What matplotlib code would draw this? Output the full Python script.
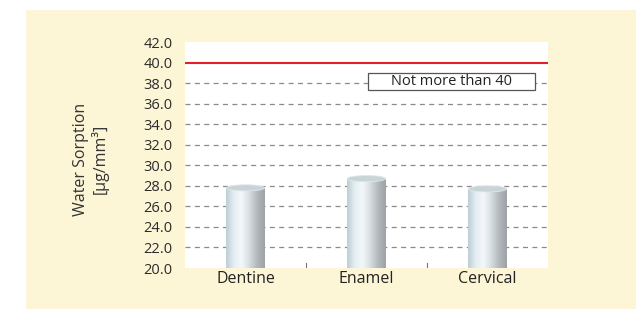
import numpy as np
import matplotlib
matplotlib.use("Agg")
import matplotlib.pyplot as plt
from matplotlib.patches import Rectangle, Ellipse
from matplotlib.colors import LinearSegmentedColormap

categories = ["Dentine", "Enamel", "Cervical"]
values = [27.8, 28.7, 27.7]
limit = 40.0
limit_label = "Not more than 40"
yticks = np.arange(20, 42.1, 2)

plt.rcParams['font.family'] = ['Open Sans', 'DejaVu Sans']

W, H = 636, 309
fig = plt.figure(figsize=(W / 100, H / 100), dpi=100)
fig.patch.set_facecolor("white")
# cream panel
fig.add_artist(Rectangle((26 / W, 0), 1 - 26 / W, 1 - 10 / H, transform=fig.transFigure,
                         facecolor="#fdf6d6", edgecolor="none", zorder=0))

ax = fig.add_axes([185 / W, (H - 268) / H, (548 - 185) / W, (268 - 42) / H])
ax.set_facecolor("white")
ax.set_xlim(-0.5, 2.5)
ax.set_ylim(20, 42)

for s in ax.spines.values():
    s.set_visible(False)

# dashed grid
for y in yticks[1:-2]:
    ax.axhline(y, color="#8a8a8a", lw=0.9, ls=(0, (4, 3.5)), zorder=1)
ax.axhline(limit, color="#e3202a", lw=1.5, zorder=3)

# cylinders
bw = 0.315
cmap = LinearSegmentedColormap.from_list(
    "cyl", ["#bccdd5", "#e4eef2", "#f4f8fa", "#d6dde1", "#b3b8bc", "#9ea2a6"])
grad = np.linspace(0, 1, 256).reshape(1, -1)
cap_h = 0.6
for i, v in enumerate(values):
    x0 = i - bw / 2
    rect = Rectangle((x0, 20), bw, v - 20, facecolor="none", edgecolor="none")
    ax.add_patch(rect)
    im = ax.imshow(grad, cmap=cmap, aspect="auto", extent=(x0, x0 + bw, 20, v),
                   zorder=4, interpolation="bicubic")
    im.set_clip_path(rect)
    ax.add_patch(Ellipse((i, v), bw, cap_h, facecolor="#c9d4d9",
                         edgecolor="#dfe7ea", lw=0.6, zorder=5))

ax.set_xlim(-0.5, 2.5)
ax.set_ylim(20, 42)

# label box
ax.add_patch(Rectangle((1.01, 37.33), 1.38, 1.66, facecolor="white",
                       edgecolor="#555555", lw=0.9, zorder=6))
ax.text(1.70, 38.16, limit_label, ha="center", va="center", fontsize=10.5,
        color="#222222", zorder=7)

# category separators
for xb in [0.5, 1.5]:
    ax.plot([xb, xb], [20, 20.45], color="#777777", lw=0.8, zorder=2)

ax.set_yticks(yticks)
ax.set_yticklabels([f"{t:.1f}" for t in yticks], fontsize=10.5, color="#2b2b2b")
ax.set_xticks(range(len(categories)))
ax.set_xticklabels(categories, fontsize=11.5, color="#222222")
ax.tick_params(axis="both", length=0)
ax.tick_params(axis="y", pad=9)
ax.tick_params(axis="x", pad=2)

fig.text(91 / W, 1 - 159 / H, "Water Sorption\n[µg/mm³]", rotation=90,
         ha="center", va="center", fontsize=11.5, color="#333333", linespacing=1.1)

fig.savefig("out.png", dpi=100, facecolor=fig.get_facecolor())
